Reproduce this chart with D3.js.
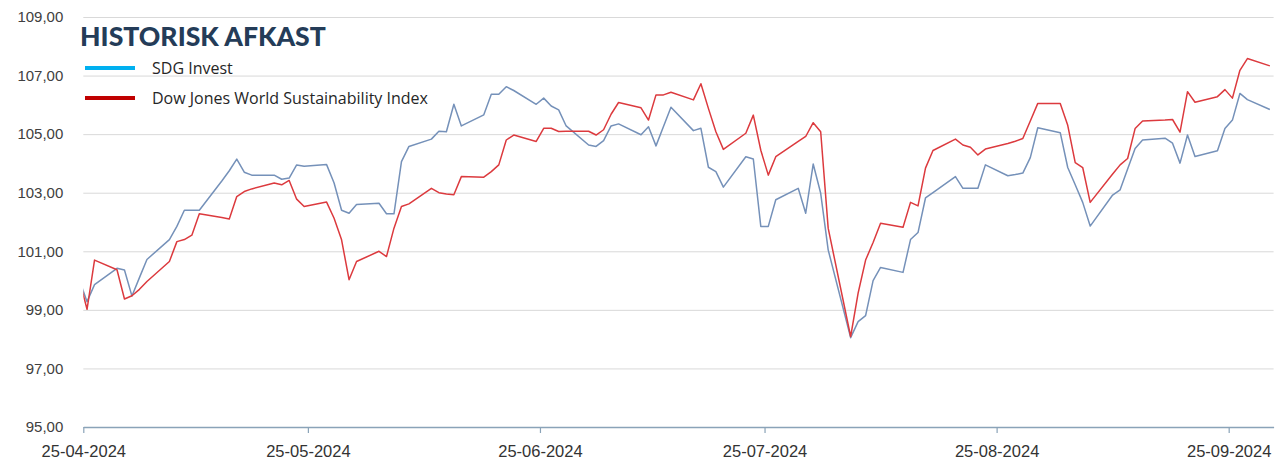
<!DOCTYPE html>
<html lang="da">
<head>
<meta charset="UTF-8">
<title>Historisk afkast</title>
<style>
  body { margin: 0; background: #fff; }
  svg { display: block; }
</style>
</head>
<body>
<script src="https://cdn.jsdelivr.net/npm/d3@7/dist/d3.min.js"></script>
<script>
// handelsdage (indekseret til 100)
var dates = [
  "2024-04-24","2024-04-25","2024-04-26","2024-04-29","2024-04-30",
  "2024-05-01","2024-05-02","2024-05-03","2024-05-06","2024-05-07","2024-05-08","2024-05-09","2024-05-10",
  "2024-05-13","2024-05-14","2024-05-15","2024-05-16","2024-05-17","2024-05-20","2024-05-21","2024-05-22",
  "2024-05-23","2024-05-24","2024-05-27","2024-05-28","2024-05-29","2024-05-30","2024-05-31",
  "2024-06-03","2024-06-04","2024-06-05","2024-06-06","2024-06-07","2024-06-10","2024-06-11","2024-06-12",
  "2024-06-13","2024-06-14","2024-06-17","2024-06-18","2024-06-19","2024-06-20","2024-06-21","2024-06-24",
  "2024-06-25","2024-06-26","2024-06-27","2024-06-28",
  "2024-07-01","2024-07-02","2024-07-03","2024-07-04","2024-07-05","2024-07-08","2024-07-09","2024-07-10",
  "2024-07-11","2024-07-12","2024-07-15","2024-07-16","2024-07-17","2024-07-18","2024-07-19","2024-07-22",
  "2024-07-23","2024-07-24","2024-07-25","2024-07-26","2024-07-29","2024-07-30","2024-07-31",
  "2024-08-01","2024-08-02","2024-08-05","2024-08-06","2024-08-07","2024-08-08","2024-08-09","2024-08-12",
  "2024-08-13","2024-08-14","2024-08-15","2024-08-16","2024-08-19","2024-08-20","2024-08-21","2024-08-22",
  "2024-08-23","2024-08-26","2024-08-27","2024-08-28","2024-08-29","2024-08-30",
  "2024-09-02","2024-09-03","2024-09-04","2024-09-05","2024-09-06","2024-09-09","2024-09-10","2024-09-11",
  "2024-09-12","2024-09-13","2024-09-16","2024-09-17","2024-09-18","2024-09-19","2024-09-20","2024-09-23",
  "2024-09-24","2024-09-25","2024-09-26","2024-09-27","2024-09-30"
];

var sdgInvest = [
  100, 99.28, 99.86, 100.42, 100.36,
  99.47, 100.1, 100.72, 101.4, 101.85, 102.4, 102.4, 102.4, 103.4, 103.75, 104.15, 103.7, 103.6, 103.6,
  103.46, 103.5, 103.95, 103.9, 103.96, 103.33, 102.4, 102.3, 102.6,
  102.64, 102.28, 102.28, 104.06, 104.58, 104.83, 105.1, 105.08, 106.02, 105.28, 105.66, 106.36, 106.36,
  106.62, 106.49, 106.02, 106.23, 105.96, 105.83, 105.28,
  104.63, 104.58, 104.78, 105.28, 105.35, 104.98, 105.25, 104.6, 105.26, 105.92, 105.12, 105.2, 103.87,
  103.72, 103.19, 104.23, 104.15, 101.85, 101.85, 102.76, 103.15, 102.3, 103.98,
  102.98, 101.05, 98.05, 98.6, 98.8, 100.0, 100.45, 100.28, 101.4, 101.64, 102.82, 103.0, 103.55, 103.15,
  103.15, 103.15, 103.95, 103.58, 103.62, 103.67, 104.2, 105.22,
  105.05, 103.86, 103.27, 102.67, 101.86, 102.92, 103.1, 103.81, 104.51, 104.8, 104.86, 104.69, 104.01,
  104.97, 104.24, 104.43, 105.19, 105.48, 106.39, 106.18, 105.84
];

var dowJones = [
  100, 99.02, 100.7, 100.37, 99.37,
  99.48, 99.7, 99.97, 100.65, 101.33, 101.4, 101.55, 102.28, 102.15, 102.1, 102.87, 103.04, 103.13, 103.33,
  103.27, 103.42, 102.78, 102.53, 102.68, 102.13, 101.39, 100.03, 100.65,
  101.0, 100.82, 101.79, 102.53, 102.62, 103.15, 103.0, 102.96, 102.93, 103.55, 103.53, 103.72, 103.95,
  104.8, 104.97, 104.75, 105.2, 105.2, 105.09, 105.1,
  105.1, 104.97, 105.15, 105.68, 106.08, 105.9, 105.48, 106.34, 106.34, 106.43, 106.17, 106.72, 105.88,
  105.08, 104.48, 105.03, 105.65, 104.45, 103.6, 104.23, 104.75, 104.92, 105.39,
  105.08, 101.79, 98.09, 99.57, 100.7, 101.3, 101.96, 101.82, 102.67, 102.55, 103.84, 104.44, 104.83, 104.63,
  104.55, 104.29, 104.49, 104.68, 104.76, 104.85, 105.45, 106.05,
  106.05, 105.3, 104.03, 103.86, 102.67, 103.64, 103.95, 104.17, 105.19, 105.45, 105.48, 105.5, 105.07,
  106.45, 106.09, 106.28, 106.52, 106.23, 107.18, 107.58, 107.33
];

var seriesNames = ["SDG Invest", "Dow Jones World Sustainability Index"];
var yTicks = [95, 97, 99, 101, 103, 105, 107, 109];
var xTicks = ["2024-04-25", "2024-05-25", "2024-06-25", "2024-07-25", "2024-08-25", "2024-09-25"];

var width = 1280, height = 462;
var parse = d3.timeParse("%Y-%m-%d");

var svg = d3.select("body").append("svg")
  .attr("width", width)
  .attr("height", height);

// x: datoakse, punkterne ligger midt i dagen (som i Excel)
var x = d3.scaleTime()
  .domain([parse(xTicks[0]), d3.timeDay.offset(parse(dates[dates.length - 1]), 1)])
  .range([83.3, 1273.6]);

var y = d3.scaleLinear()
  .domain([95, 109])
  .range([427, 17]);

var comma = function(v) { return d3.format(".2f")(v).replace(".", ","); };

// gitterlinjer + y-tal
var yAxis = svg.append("g")
  .attr("transform", "translate(" + x.range()[0] + ",0)")
  .call(d3.axisLeft(y).tickValues(yTicks).tickSize(-(x.range()[1] - x.range()[0])).tickFormat(comma).tickPadding(20));
yAxis.select(".domain").remove();
yAxis.selectAll(".tick line").attr("stroke", "#d9d9d9").attr("stroke-width", 1);
yAxis.selectAll(".tick text")
  .attr("fill", "#404040")
  .style("font-family", "'Liberation Sans', Arial, sans-serif")
  .style("font-size", "15px");

// x-akse
var xAxis = svg.append("g")
  .attr("transform", "translate(0," + y(95) + ")")
  .call(d3.axisBottom(x)
    .tickValues(xTicks.map(parse))
    .tickSize(6)
    .tickSizeOuter(0)
    .tickPadding(12)
    .tickFormat(d3.timeFormat("%d-%m-%Y")));
xAxis.select(".domain").attr("stroke", "#8aa3b8").attr("stroke-width", 1.6);
xAxis.selectAll(".tick line").attr("stroke", "#8aa3b8").attr("stroke-width", 1.2);
xAxis.selectAll(".tick text")
  .attr("fill", "#333333")
  .style("font-family", "'Liberation Sans', Arial, sans-serif")
  .style("font-size", "16.5px");

// linjer
svg.append("clipPath").attr("id", "plot")
  .append("rect")
  .attr("x", x.range()[0]).attr("y", y.range()[1])
  .attr("width", x.range()[1] - x.range()[0])
  .attr("height", y.range()[0] - y.range()[1]);

var line = d3.line()
  .x(function(d) { return x(d3.timeHour.offset(d.date, 12)); })
  .y(function(d) { return y(d.v); });

function rows(values) {
  return dates.map(function(s, i) { return { date: parse(s), v: values[i] }; });
}

var series = [
  { name: seriesNames[0], values: sdgInvest, color: "#7591b9", legend: "#00b0f0" },
  { name: seriesNames[1], values: dowJones, color: "#dc3a3e", legend: "#c00000" }
];

svg.append("g").attr("clip-path", "url(#plot)")
  .selectAll("path").data(series).enter().append("path")
  .attr("d", function(d) { return line(rows(d.values)); })
  .attr("fill", "none")
  .attr("stroke", function(d) { return d.color; })
  .attr("stroke-width", 1.5)
  .attr("stroke-linejoin", "round");

// titel
svg.append("text")
  .attr("x", 80).attr("y", 46)
  .attr("fill", "#243c58")
  .style("font-family", "Lato, sans-serif")
  .style("font-weight", 900)
  .style("font-size", "26.6px")
  .text("HISTORISK AFKAST");

// forklaring
var legend = svg.append("g").selectAll("g").data(series).enter().append("g")
  .attr("transform", function(d, i) { return "translate(85," + (68 + i * 30) + ")"; });
legend.append("line")
  .attr("x1", 0).attr("x2", 50)
  .attr("stroke", function(d) { return d.legend; })
  .attr("stroke-width", 4);
legend.append("text")
  .attr("x", 67).attr("y", 6)
  .attr("fill", "#262626")
  .style("font-family", "'Open Sans', sans-serif")
  .style("font-size", "16px")
  .text(function(d) { return d.name; });
</script>
</body>
</html>
